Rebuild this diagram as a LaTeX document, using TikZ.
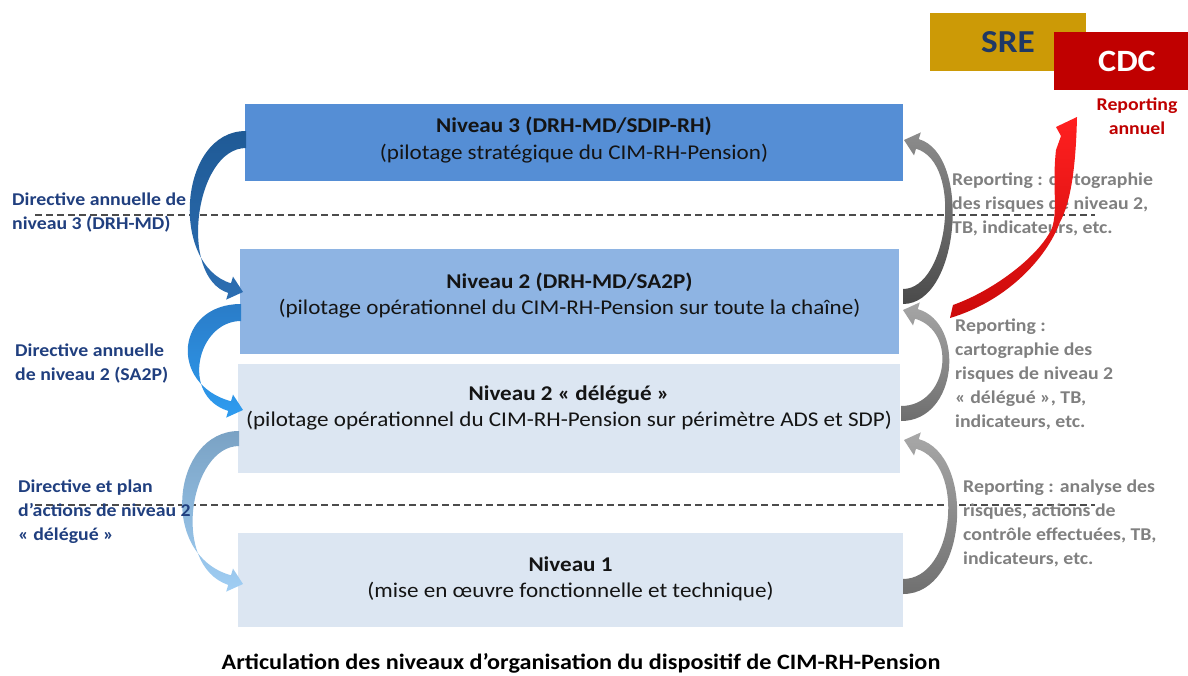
\documentclass[tikz,border=0pt]{standalone}
\usepackage{fontspec}
\setmainfont{Carlito}[FakeStretch=1.1]
\definecolor{lvlthree}{HTML}{558ED5}
\definecolor{lvltwo}{HTML}{8EB4E3}
\definecolor{lvlpale}{HTML}{DCE6F2}
\definecolor{navytxt}{HTML}{203F7F}
\definecolor{greytxt}{HTML}{808080}
\definecolor{sregold}{HTML}{CC9A06}
\definecolor{srenavy}{HTML}{1F3864}
\definecolor{cdcred}{HTML}{C00000}
% arrow colours
\definecolor{aonetail}{HTML}{1F5A96}
\definecolor{aonehead}{HTML}{2C6EB2}
\definecolor{atwotail}{HTML}{2A7CC8}
\definecolor{atwohead}{HTML}{2E9CF0}
\definecolor{athreetail}{HTML}{7AA2C4}
\definecolor{athreehead}{HTML}{A0CEF4}
\definecolor{ronetail}{HTML}{4A4A4A}
\definecolor{ronehead}{HTML}{8C8C8C}
\definecolor{rtwotail}{HTML}{6E6E6E}
\definecolor{rtwohead}{HTML}{A6A6A6}
\definecolor{rthreetail}{HTML}{707070}
\definecolor{rthreehead}{HTML}{A8A8A8}
\definecolor{redtop}{HTML}{FF2020}
\definecolor{redbottom}{HTML}{CC0A0A}
\newcommand\fsz[2]{\fontsize{#1}{#2}\selectfont}
\begin{document}
\begin{tikzpicture}[x=1pt,y=-1pt,
  levelbox/.style={draw=none, inner sep=0pt},
  boxtext/.style={align=center, inner sep=0pt, font=\fsz{21}{26.5}, text=black!92},
  dirlabel/.style={align=left, anchor=west, inner sep=0pt, font=\bfseries\fsz{18}{24}, text=navytxt},
  replabel/.style={align=left, anchor=west, inner sep=0pt, font=\bfseries\fsz{18}{24}, text=greytxt},
  guide/.style={dash pattern=on 7pt off 4pt, line width=1.1pt, draw=black!70}]
\useasboundingbox (0,0) rectangle (1188,675);
\fill[white] (0,0) rectangle (1188,675);

% dashed separators
\coordinate (g1a) at (35,215);  \coordinate (g1b) at (1095,215);
\coordinate (g2a) at (35,505);  \coordinate (g2b) at (1095,505);
\draw[guide] (g1a) -- (g1b);
\draw[guide] (g2a) -- (g2b);

% the four levels
\node[levelbox, fill=lvlthree, minimum width=658pt, minimum height=77pt] (n3) at (574,142.5) {};
\node[levelbox, fill=lvltwo, minimum width=659pt, minimum height=105pt] (n2) at (569.5,301.5) {};
\node[levelbox, fill=lvlpale, minimum width=662pt, minimum height=109pt] (n2d) at (569,418.5) {};
\node[levelbox, fill=lvlpale, minimum width=665pt, minimum height=94pt] (n1) at (570.5,580) {};

\node[boxtext] (t3) at (574,140) {\textbf{Niveau 3 (DRH-MD/SDIP-RH)}\\(pilotage stratégique du CIM-RH-Pension)};
\node[boxtext] (t2) at (569.5,295.5) {\textbf{Niveau 2 (DRH-MD/SA2P)}\\(pilotage opérationnel du CIM-RH-Pension sur toute la chaîne)};
\node[boxtext] (t2d) at (569,408) {\textbf{Niveau 2 «~délégué~»}\\(pilotage opérationnel du CIM-RH-Pension sur périmètre ADS et SDP)};
\node[boxtext] (t1) at (570.5,579) {\textbf{Niveau 1}\\(mise en œuvre fonctionnelle et technique)};

% first directive label sits under its arrow
\node[dirlabel] (d3) at (12,213) {Directive annuelle de\\niveau 3 (DRH-MD)};

% downward directive arrows (level to level, left side)
\shade[top color=aonetail, bottom color=aonehead]
  (246,131) .. controls (178,131) and (170,265) .. (231,283.3) -- (233,276.6) -- (243,292)
  -- (226.2,299.6) -- (228.2,292.9) .. controls (178,277) and (195,148) .. (246,148) -- cycle;
\shade[top color=atwotail, bottom color=atwohead]
  (241,304) .. controls (176,304) and (168,384) .. (231,401.3) -- (233,394.6) -- (243,410)
  -- (226.2,417.6) -- (228.2,410.9) .. controls (180,396) and (197,321) .. (241,321) -- cycle;
\shade[top color=athreetail, bottom color=athreehead]
  (239,431) .. controls (172,431) and (158,555) .. (231,575.3) -- (233,568.6) -- (243,584)
  -- (226.2,591.6) -- (228.2,584.9) .. controls (170,565) and (190,446) .. (239,446) -- cycle;

\node[dirlabel] (d2) at (15,363.5) {Directive annuelle\\de niveau 2 (SA2P)};
\node[dirlabel] (d2d) at (18,512) {Directive et plan\\d’actions de niveau 2\\«~délégué~»};

% upward reporting arrows (right side)
\shade[top color=ronehead, bottom color=ronetail]
  (903,304) .. controls (960,304) and (971.6,154.5) .. (918.8,139.1) -- (920.8,132.4) -- (904,140)
  -- (914,155.4) -- (916,148.7) .. controls (964,162.7) and (948,289) .. (903,289) -- cycle;
\shade[top color=rtwohead, bottom color=rtwotail]
  (901,421) .. controls (958,421) and (965.8,323.1) .. (917.8,309.1) -- (919.8,302.4) -- (903,310)
  -- (913,325.4) -- (915,318.7) .. controls (958.2,331.3) and (948,406) .. (901,406) -- cycle;
\shade[top color=rthreehead, bottom color=rthreetail]
  (903,594) .. controls (968,594) and (976,455) .. (918.8,439.1) -- (920.8,432.4) -- (904,440)
  -- (914,455.4) -- (916,448.7) .. controls (966,462.7) and (955,579) .. (903,579) -- cycle;

% reporting (right)
\node[replabel] (r2) at (952,204.5) {Reporting : cartographie\\des risques de niveau 2,\\TB, indicateurs, etc.};
\node[replabel] (r2d) at (955,374) {Reporting :\\cartographie des\\risques de niveau 2\\«~délégué~», TB,\\indicateurs, etc.};
\node[replabel] (r1) at (963,523) {Reporting : analyse des\\risques, actions de\\contrôle effectuées, TB,\\indicateurs, etc.};

% external bodies
\node[levelbox, fill=sregold, minimum width=156pt, minimum height=58pt,
      font=\bfseries\fsz{32}{32}, text=srenavy] (sre) at (1008,42) {SRE};
\node[levelbox, fill=cdcred, minimum width=134pt, minimum height=58pt,
      font=\bfseries\fsz{31}{32}, text=white] (cdc) at (1121,61) {\hspace*{12pt}CDC};
\node[align=center, inner sep=0pt, font=\bfseries\fsz{18}{24}, text=cdcred] (annuel) at (1137,116) {Reporting\\annuel};

% annual reporting arrow: blunt tail, twisted waist, single-barb head
\shade[top color=redtop, bottom color=redbottom]
  (950,318) -- (953,305) .. controls (995,290) and (1040,255) .. (1052,228)
  .. controls (1058,210) and (1052,185) .. (1056,150) -- (1061,136) -- (1056,127) -- (1077,117)
  .. controls (1076,160) and (1072,200) .. (1060,222)
  .. controls (1048,255) and (1010,300) .. (950,318) -- cycle;

% caption
\node[inner sep=0pt, font=\bfseries\fsz{22}{24}, text=black] (caption) at (581,663)
  {Articulation des niveaux d’organisation du dispositif de CIM-RH-Pension};
\end{tikzpicture}
\end{document}
